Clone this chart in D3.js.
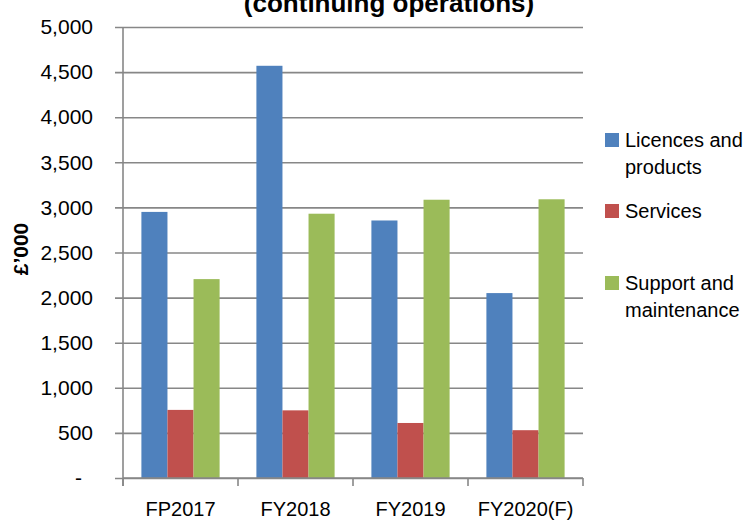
<!DOCTYPE html>
<html>
<head>
<meta charset="utf-8">
<script src="https://cdn.jsdelivr.net/npm/d3@7"></script>
<style>
  body { margin: 0; background: #fff; }
  text { font-family: "Liberation Sans", Arial, sans-serif; fill: #000; }
</style>
</head>
<body>
<script>
// data (£'000)
const categories = ["FP2017", "FY2018", "FY2019", "FY2020(F)"];
const seriesNames = ["Licences and products", "Services", "Support and maintenance"];
const licences = [2950, 4570, 2855, 2050];
const services = [755, 750, 610, 530];
const support = [2205, 2930, 3085, 3090];
const yTicks = [0, 500, 1000, 1500, 2000, 2500, 3000, 3500, 4000, 4500, 5000];
const colours = ["#4F81BD", "#C0504D", "#9BBB59"];
const legendLines = [["Licences and", "products"], ["Services"], ["Support and", "maintenance"]];

const values = [licences, services, support];

const width = 752, height = 520;
const plotLeft = 123, plotRight = 583, plotTop = 27, plotBottom = 478;

const svg = d3.select("body")
  .append("svg")
  .attr("width", width)
  .attr("height", height);

const x0 = d3.scaleBand()
  .domain(categories)
  .range([plotLeft, plotRight])
  .paddingInner(0.32)
  .paddingOuter(0.16);

const x1 = d3.scaleBand()
  .domain(d3.range(seriesNames.length))
  .range([0, x0.bandwidth()]);

const y = d3.scaleLinear()
  .domain([0, 5000])
  .range([plotBottom, plotTop]);

//gitterlinjer + y-akse
const yAxis = svg.append("g")
  .attr("transform", `translate(${plotLeft},0)`)
  .call(d3.axisLeft(y)
    .tickValues(yTicks)
    .tickSize(8)
    .tickPadding(22)
    .tickFormat(d => d === 0 ? "-" : d3.format(",")(d)));

yAxis.select(".domain").remove();
yAxis.selectAll(".tick line")
  .attr("x1", plotRight - plotLeft)
  .attr("stroke", "#878787")
  .attr("stroke-width", 1.6);
yAxis.selectAll(".tick text")
  .style("font-size", "21px")
  .attr("x", d => d === 0 ? -41 : -30);

// lodret akselinje
svg.append("line")
  .attr("x1", plotLeft).attr("x2", plotLeft)
  .attr("y1", plotTop).attr("y2", plotBottom + 8)
  .attr("stroke", "#878787")
  .attr("stroke-width", 1.6);

// søjler
const groups = svg.append("g")
  .selectAll("g")
  .data(categories)
  .join("g")
  .attr("transform", d => `translate(${x0(d)},0)`);

groups.selectAll("rect")
  .data((d, i) => values.map((s, j) => ({ series: j, value: s[i] })))
  .join("rect")
  .attr("x", d => x1(d.series))
  .attr("y", d => y(d.value))
  .attr("width", x1.bandwidth())
  .attr("height", d => y(0) - y(d.value))
  .attr("fill", d => colours[d.series]);

// x-akse
svg.append("line")
  .attr("x1", plotLeft).attr("x2", plotRight)
  .attr("y1", plotBottom).attr("y2", plotBottom)
  .attr("stroke", "#878787")
  .attr("stroke-width", 1.6);

svg.append("g")
  .selectAll("line")
  .data(d3.range(categories.length + 1))
  .join("line")
  .attr("x1", i => plotLeft + i * x0.step())
  .attr("x2", i => plotLeft + i * x0.step())
  .attr("y1", plotBottom)
  .attr("y2", plotBottom + 8)
  .attr("stroke", "#878787")
  .attr("stroke-width", 1.6);

svg.append("g")
  .selectAll("text")
  .data(categories)
  .join("text")
  .attr("x", d => x0(d) + x0.bandwidth() / 2)
  .attr("y", 516)
  .attr("text-anchor", "middle")
  .style("font-size", "20px")
  .text(d => d);

// titel (øverste linje er skåret af i originalen)
svg.append("text")
  .attr("x", 389)
  .attr("y", 12)
  .attr("text-anchor", "middle")
  .style("font-size", "26px")
  .style("font-weight", "bold")
  .text("(continuing operations)");

// y-aksetitel
svg.append("text")
  .attr("transform", "translate(28,249) rotate(-90)")
  .attr("text-anchor", "middle")
  .style("font-size", "21px")
  .style("font-weight", "bold")
  .text("£’000");

// signaturforklaring
const legendY = [133, 204, 276];
const legend = svg.append("g")
  .selectAll("g")
  .data(seriesNames)
  .join("g")
  .attr("transform", (d, i) => `translate(605,${legendY[i]})`);

legend.append("rect")
  .attr("width", 14)
  .attr("height", 14)
  .attr("fill", (d, i) => colours[i]);

legend.append("text")
  .style("font-size", "20px")
  .selectAll("tspan")
  .data((d, i) => legendLines[i])
  .join("tspan")
  .attr("x", 20)
  .attr("y", (d, k) => 14 + k * 27)
  .text(d => d);
</script>
</body>
</html>
